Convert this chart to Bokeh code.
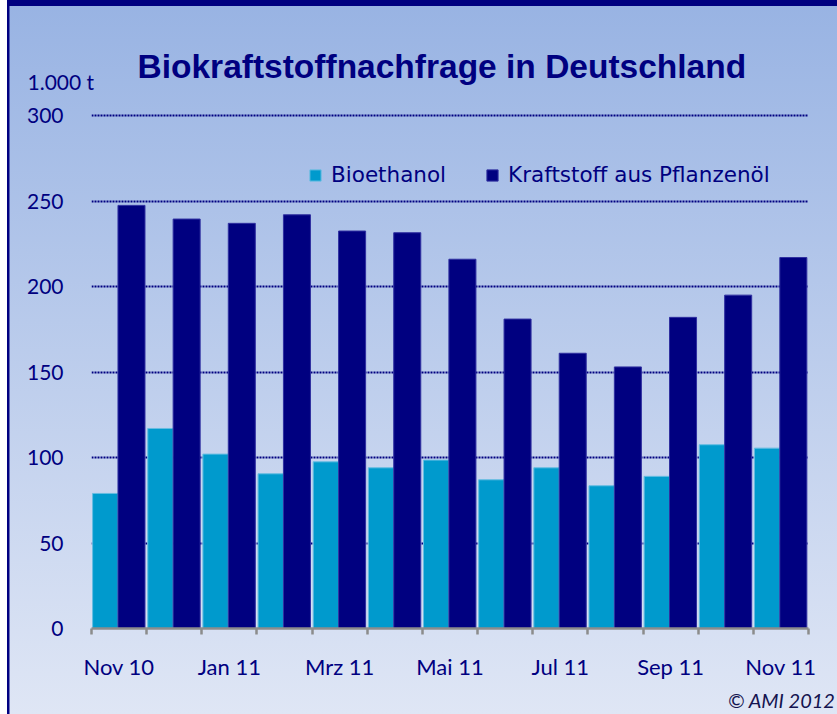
import numpy as np
from bokeh.plotting import figure
from bokeh.models import (FixedTicker, Legend, LegendItem, LinearAxis, Title,
                          Range1d, Grid, ColumnDataSource)
from bokeh.embed import file_html
from bokeh.resources import INLINE

# ---- data ----
months = ["Nov 10", "Dez 10", "Jan 11", "Feb 11", "Mrz 11", "Apr 11", "Mai 11",
          "Jun 11", "Jul 11", "Aug 11", "Sep 11", "Okt 11", "Nov 11"]
bioethanol = [79, 117, 102, 90.5, 97.5, 94, 98.5, 87, 94, 83.5, 89, 107.5, 105.5]
pflanzenoel = [247.5, 239.5, 237, 242, 232.5, 231.5, 216, 181, 161, 153, 182, 195, 217]
series_names = ["Bioethanol", "Kraftstoff aus Pflanzenöl"]
y_ticks = [0, 50, 100, 150, 200, 250, 300]
title_text = "Biokraftstoffnachfrage in Deutschland"
unit_text = "1.000 t"
source_text = "© AMI 2012"

NAVY = "#000080"
LIGHT = "#009ACD"

idx = np.arange(len(months))
src = ColumnDataSource(dict(x1=idx + 0.25, x2=idx + 0.725,
                            bio=bioethanol, oel=pflanzenoel))

p = figure(width=837, height=714, output_backend="svg", toolbar_location=None,
           x_range=Range1d(0, len(months)), y_range=Range1d(0, 303),
           x_axis_type=None, y_axis_type=None,
           min_border_left=91, min_border_right=29,
           min_border_top=110, min_border_bottom=86)
p.background_fill_color = None
p.border_fill_color = None
p.outline_line_color = None
p.styles = {
    "background": (
        "linear-gradient(#000080,#000080) 7px 0 / 2.5px 100% no-repeat, "
        "linear-gradient(#000080,#000080) 7px 0 / 100% 6px no-repeat, "
        "linear-gradient(#ffffff,#ffffff) 0 0 / 7px 100% no-repeat, "
        "linear-gradient(#98b3e3, #dfe6f5)"
    )
}

# grid
grid = Grid(dimension=1, ticker=FixedTicker(ticks=y_ticks[1:]),
            grid_line_color=NAVY, grid_line_width=2, grid_line_dash="2 1")
p.add_layout(grid)

# bars
r1 = p.vbar(x="x1", top="bio", width=0.46, source=src,
            fill_color=LIGHT, line_color="#66bde2", line_width=1)
r2 = p.vbar(x="x2", top="oel", width=0.49, source=src,
            fill_color=NAVY, line_color="#3030a0", line_width=1)

# y axis
yaxis = LinearAxis(ticker=FixedTicker(ticks=y_ticks),
                   axis_line_color=None, major_tick_line_color=None,
                   minor_tick_line_color=None, major_tick_out=0, minor_tick_out=0,
                   major_label_standoff=28,
                   major_label_text_font="Lato", major_label_text_font_size="21px",
                   major_label_text_color=NAVY)
p.add_layout(yaxis, "left")

# x axis
centers = list(idx[::2] + 0.5)
xaxis = LinearAxis(ticker=FixedTicker(ticks=centers, minor_ticks=list(range(len(months) + 1))),
                   major_label_overrides={float(c): m for c, m in zip(centers, months[::2])},
                   axis_line_color="#8c8c8c", axis_line_width=2.5,
                   major_tick_line_color=None, major_tick_out=0, major_tick_in=0,
                   minor_tick_line_color="#8c8c8c", minor_tick_line_width=2.5,
                   minor_tick_out=6, minor_tick_in=0,
                   major_label_standoff=18,
                   major_label_text_font="Lato", major_label_text_font_size="22px",
                   major_label_text_color=NAVY)
p.add_layout(xaxis, "below")

# legend
legend = Legend(items=[LegendItem(label=series_names[0], renderers=[r1]),
                       LegendItem(label=series_names[1], renderers=[r2])],
                orientation="horizontal", location=(217, 441),
                glyph_width=14, glyph_height=14, label_standoff=9, spacing=39,
                padding=0, margin=0, border_line_color=None,
                background_fill_alpha=0,
                label_text_font="DejaVu Sans", label_text_font_size="21.5px",
                label_text_color=NAVY)
p.add_layout(legend)

# titles / texts
p.add_layout(Title(text=unit_text, align="left", offset=-64, standoff=34,
                   text_font="Lato", text_font_size="21px",
                   text_font_style="normal", text_color=NAVY), "above")
p.add_layout(Title(text=title_text, align="left", offset=46, standoff=-71,
                   text_font="Liberation Sans", text_font_style="bold",
                   text_font_size="33.5px", text_color=NAVY), "above")
p.add_layout(Title(text=source_text, align="right", offset=-27, standoff=6,
                   text_font="Lato", text_font_style="italic",
                   text_font_size="20px", text_color="#141450"), "below")

open("out.html", "w").write(file_html(p, INLINE))
